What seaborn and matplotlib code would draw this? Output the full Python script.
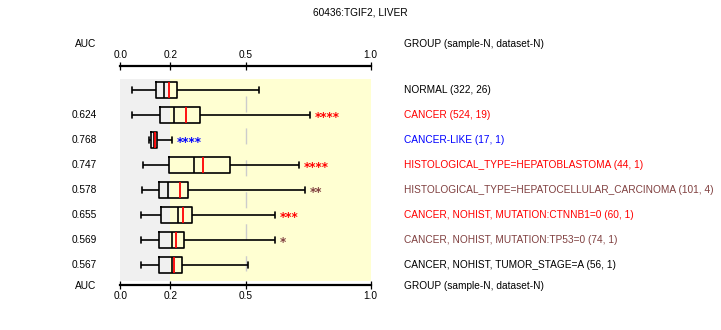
import numpy as np
import pandas as pd
import matplotlib
matplotlib.use("Agg")
import matplotlib.pyplot as plt
import matplotlib.transforms as mtransforms
import seaborn as sns

# ---- data -------------------------------------------------------------
title = "60436:TGIF2, LIVER"
groups = [
    "NORMAL",
    "CANCER",
    "CANCER-LIKE",
    "HISTOLOGICAL_TYPE=HEPATOBLASTOMA",
    "HISTOLOGICAL_TYPE=HEPATOCELLULAR_CARCINOMA",
    "CANCER, NOHIST, MUTATION:CTNNB1=0",
    "CANCER, NOHIST, MUTATION:TP53=0",
    "CANCER, NOHIST, TUMOR_STAGE=A",
]
sample_n = [322, 524, 17, 44, 101, 60, 74, 56]
dataset_n = [26, 19, 1, 1, 4, 1, 1, 1]
auc = ["", "0.624", "0.768", "0.747", "0.578", "0.655", "0.569", "0.567"]
whisker_low = [0.048, 0.048, 0.113, 0.092, 0.088, 0.084, 0.084, 0.084]
q1 = [0.144, 0.160, 0.124, 0.196, 0.156, 0.164, 0.156, 0.156]
median = [0.176, 0.216, 0.133, 0.296, 0.189, 0.232, 0.205, 0.205]
mean = [0.196, 0.261, 0.140, 0.331, 0.240, 0.249, 0.224, 0.216]
q3 = [0.228, 0.319, 0.148, 0.439, 0.272, 0.285, 0.256, 0.248]
whisker_high = [0.555, 0.759, 0.208, 0.715, 0.739, 0.617, 0.617, 0.511]
stars = ["", "****", "****", "****", "**", "***", "*", ""]
label_colors = ["black", "red", "blue", "red", "#804040", "red", "#804040", "black"]
xticks = [0.0, 0.2, 0.5, 1.0]
xtick_labels = ["0.0", "0.2", "0.5", "1.0"]

# five-number summaries as long-form rows (min, q1, median, q3, max)
rows = []
for g, a, b, c, d, e in zip(groups, whisker_low, q1, median, q3, whisker_high):
    for v in (a, b, c, d, e):
        rows.append({"group": g, "value": v})
df = pd.DataFrame(rows)

# ---- style ------------------------------------------------------------
sns.set_style("white")
plt.rcParams["font.family"] = ["Liberation Sans", "DejaVu Sans"]
plt.rcParams["text.color"] = "black"
plt.rcParams["xtick.color"] = "black"
plt.rcParams["xtick.labelcolor"] = "black"
FS = 7.3

fig = plt.figure(figsize=(7.21, 3.30), dpi=100)
W, H = 721.0, 330.0
x0_px, x1_px = 120.3, 370.7
top_px, bot_px = 66.0, 285.0
ax = fig.add_axes([x0_px / W, 1 - bot_px / H, (x1_px - x0_px) / W, (bot_px - top_px) / H])

row_px0, row_step = 90.0, 25.0
def py(px):
    return (px - row_px0) / row_step

# shaded background: below 0.2 grey, above pale yellow
ax.fill_betweenx([py(79.3), py(280.7)], 0.0, 0.2, color="#f0f0f0", lw=0, zorder=0)
ax.fill_betweenx([py(79.3), py(280.7)], 0.2, 1.0, color="#ffffd2", lw=0, zorder=0)

# dashed reference line at 0.5
ax.vlines(0.5, py(96), py(271), colors="#cccccc", lw=1.0,
          linestyles=(0, (11.5, 11.5)), zorder=1)

sns.boxplot(data=df, x="value", y="group", order=groups, orient="h",
            whis=(0, 100), width=0.64, fill=False, color="black",
            linewidth=1.2, showfliers=False, ax=ax, zorder=3)

cont = ax.containers[0]
for art in list(cont.medians) + list(cont.whiskers) + list(cont.boxes):
    art.set_color("black")
    art.set_linewidth(1.2)
for cap in cont.caps:
    yd = np.asarray(cap.get_ydata(), dtype=float)
    c = yd.mean()
    cap.set_ydata([c - 0.11, c + 0.11])
    cap.set_color("black")
    cap.set_linewidth(1.2)

pos = np.arange(len(groups))
ax.vlines(mean, pos - 0.32, pos + 0.32, colors="red", lw=1.3, zorder=4)

# significance stars next to upper whisker
for p, wh, s, col in zip(pos, whisker_high, stars, label_colors):
    if s:
        ax.annotate(s, xy=(wh, p), xytext=(3.2, -1.5), textcoords="offset points",
                    ha="left", va="center", fontsize=8.5, fontweight="bold", color=col,
                    family=["DejaVu Sans"])

ax.set_xlim(0, 1)
ax.set_ylim(py(bot_px), py(top_px))
ax.set_xlabel("")
ax.set_ylabel("")
ax.set_yticks([])
ax.set_xticks(xticks)
ax.set_xticklabels(xtick_labels)
ax.tick_params(axis="x", top=True, labeltop=True, bottom=True, labelbottom=True,
               direction="inout", length=6, width=0.9, pad=2.5, labelsize=FS,
               color="black", labelcolor="black")
ax.tick_params(axis="x", which="major", top=True, pad=1.0)
for lab in ax.get_xticklabels():
    lab.set_color("black")
for side in ("left", "right"):
    ax.spines[side].set_visible(False)
for side in ("top", "bottom"):
    ax.spines[side].set_linewidth(1.6)
    ax.spines[side].set_color("black")
ax.set_facecolor("none")

blend = mtransforms.blended_transform_factory(ax.transAxes, ax.transData)
xa = (96.5 - x0_px) / (x1_px - x0_px)
xg = (404.0 - x0_px) / (x1_px - x0_px)

for p, g, n, d, a, col in zip(pos, groups, sample_n, dataset_n, auc, label_colors):
    ax.text(xg, p, f"{g} ({n}, {d})", transform=blend, ha="left", va="center",
            fontsize=FS, color=col)
    if a:
        ax.text(xa, p, a, transform=blend, ha="right", va="center", fontsize=FS,
                color="black")

for ypx in (44.0, 286.0):
    ax.text(xa, py(ypx), "AUC", transform=blend, ha="right", va="center",
            fontsize=FS, color="black")
    ax.text(xg, py(ypx), "GROUP (sample-N, dataset-N)", transform=blend,
            ha="left", va="center", fontsize=FS, color="black")

fig.text(0.5, 1 - 12.3 / H, title, ha="center", va="center", fontsize=FS,
         color="black")

fig.savefig("out.png", dpi=100, facecolor="white")
